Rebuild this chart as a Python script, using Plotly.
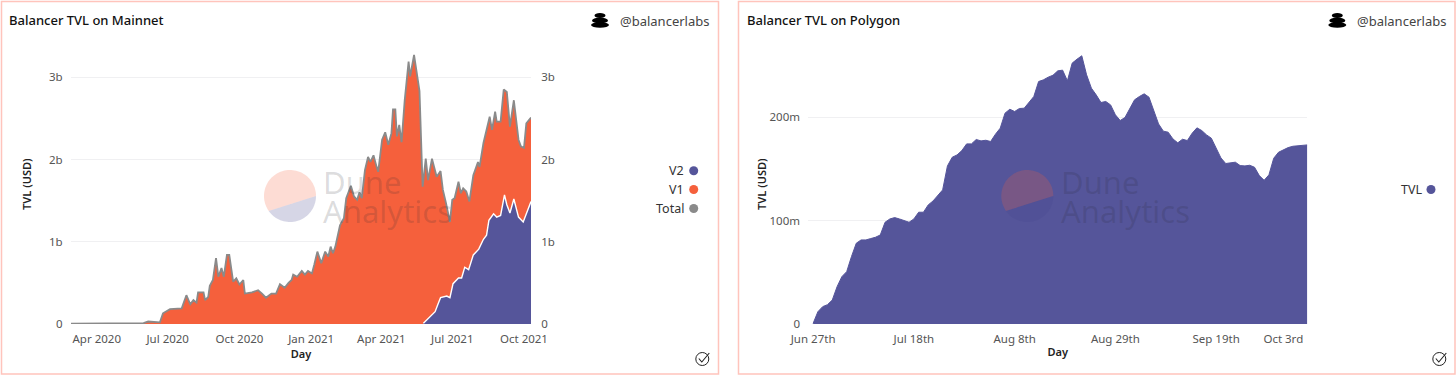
import numpy as np
import pandas as pd
import plotly.graph_objects as go

W, H = 1456, 375
FONT = "Noto Sans"

# ---- Mainnet data (day number since 2020-02-28, USD billions)
mainnet_start = "2020-02-28"
total_days = [0,37,88,93,99,114,118,127,142,148,153,157,161,163,170,172,176,178,182,186,189,193,196,200,203,208,212,216,221,223,232,240,245,250,257,263,268,274,279,283,285,290,296,300,304,309,312,316,321,326,330,333,336,339,345,350,353,359,363,367,370,373,377,381,384,388,392,394,399,403,407,411,413,416,418,421,424,428,433,435,440,444,447,451,455,458,463,466,469,474,477,481,486,489,492,497,500,503,507,511,516,522,524,529,535,537,540,544,546,551,555,559,563,568,574,577,581,584,590]
total_bn = [.005,.005,.005,.01,.03,.02,.13,.18,.19,.35,.24,.29,.26,.385,.385,.29,.33,.465,.535,.80,.575,.68,.575,.84,.84,.515,.555,.48,.535,.37,.385,.41,.37,.32,.37,.37,.485,.44,.50,.535,.60,.575,.645,.60,.645,.615,.72,.88,.74,.88,.82,.94,.86,.94,1.20,1.285,1.53,1.68,1.55,1.51,1.60,1.53,1.87,2.03,1.97,2.05,1.91,1.85,2.24,2.33,2.18,2.32,2.61,2.61,2.28,2.42,2.21,2.72,3.19,3.01,3.27,3.01,2.83,1.67,2.01,1.75,2.01,1.90,1.79,1.86,1.63,1.47,1.24,1.51,1.53,1.73,1.59,1.65,1.61,1.49,1.81,1.97,1.91,2.20,2.44,2.52,2.36,2.58,2.46,2.46,2.85,2.82,2.40,2.72,2.24,2.16,2.14,2.44,2.51]
v2_days = [452,460,467,471,474,482,486,490,497,501,505,510,516,523,529,533,536,542,546,551,556,559,563,568,574,580,584,590]
v2_bn = [.01,.08,.15,.25,.32,.34,.32,.49,.56,.56,.69,.66,.84,.91,1.03,1.08,1.26,1.34,1.30,1.32,1.57,1.45,1.35,1.52,1.30,1.24,1.35,1.49]
main_tick_dates = ["2020-04-01","2020-07-01","2020-10-01","2021-01-01","2021-04-01","2021-07-01","2021-10-01"]
main_tick_text = ["Apr 2020","Jul 2020","Oct 2020","Jan 2021","Apr 2021","Jul 2021","Oct 2021"]

# ---- Polygon data (daily from 2021-06-27, USD millions)
polygon_start = "2021-06-27"
polygon_m = [.5,11.9,16.8,18.7,23.2,36.1,45.8,50.6,65.2,78.1,81.3,81.3,82.6,83.9,86.1,98.4,101.6,102.9,101.6,100,98.4,101.6,108.1,108.1,115.2,119,124.8,129.7,152.9,161.3,163.5,167.7,174.2,174.2,178.4,177.1,177.7,176.5,183.5,189.4,203.9,207.7,205.5,208.4,208.7,213.9,220,234.5,236.1,238.7,240.6,244.8,245.5,235.2,252.3,256.1,259.4,241,228.1,221.6,214.2,215.2,211.9,202.3,196.8,199.7,207.7,216.8,220,222.6,219.4,207.1,193.5,186.5,185.5,179,175.2,178.7,177.4,184.5,189.7,187.1,182.9,179.7,170.6,160.6,155.2,155.5,156.5,153.2,152.9,153.5,151.6,143.5,139,144.2,160.3,166.1,168.7,170.6,171.9,172.3,172.3,173.2]
poly_tick_dates = ["2021-06-27","2021-07-18","2021-08-08","2021-08-29","2021-09-19","2021-10-03"]
poly_tick_text = ["Jun 27th","Jul 18th","Aug 8th","Aug 29th","Sep 19th","Oct 3rd"]

NAVY, ORANGE, GREY = "#55559a", "#f5603c", "#8a8a8a"
GRID, TICK, BORDER = "#f0f0f2", "#555555", "#ffc4bc"
CLEAR = "rgba(0,0,0,0)"

px = lambda v: v / W
py = lambda v: 1 - v / H

m_dates = pd.Timestamp(mainnet_start) + pd.to_timedelta(total_days, unit="D")
v2_dates = pd.Timestamp(mainnet_start) + pd.to_timedelta(v2_days, unit="D")
p_dates = pd.date_range(polygon_start, periods=len(polygon_m), freq="D")

fig = go.Figure()
# V1 sits on V2 in the original, so its upper edge is the total
fig.add_scatter(x=m_dates, y=total_bn, name="V1", mode="lines", fill="tozeroy", line=dict(width=0, color=ORANGE), fillcolor=ORANGE, xaxis="x", yaxis="y")
fig.add_scatter(x=v2_dates, y=v2_bn, name="V2", mode="lines", fill="tozeroy", line=dict(width=1.4, color="white"), fillcolor=NAVY, xaxis="x", yaxis="y")
fig.add_scatter(x=m_dates, y=total_bn, name="Total", mode="lines", line=dict(width=1.8, color=GREY), xaxis="x", yaxis="y2")
fig.add_scatter(x=p_dates, y=polygon_m, name="TVL", mode="lines", fill="tozeroy", line=dict(width=1, color=NAVY), fillcolor=NAVY, xaxis="x2", yaxis="y3")

tickfont = dict(family=FONT, size=11.5, color=TICK)
titlefont = dict(family=FONT, size=11, color="#222222", weight=600)

def xa(domain, rng, vals, text, title_std):
    return dict(domain=domain, range=rng, tickmode="array", tickvals=vals, ticktext=text, showgrid=False,
                zeroline=False, showline=False, ticks="outside", ticklen=4, tickcolor=CLEAR, tickfont=tickfont,
                title=dict(text="Day", font=titlefont, standoff=title_std))

def ya(rng, vals, text, ticklen=5, **kw):
    return dict(domain=[py(324), py(44.3)], range=rng, tickmode="array", tickvals=vals, ticktext=text,
                zeroline=False, showline=False, ticks="outside", ticklen=ticklen, tickcolor=CLEAR, tickfont=tickfont, **kw)

fig.update_layout(
    width=W, height=H, margin=dict(l=0, r=0, t=0, b=0, autoexpand=False), paper_bgcolor="white", plot_bgcolor="white",
    showlegend=False, font=dict(family=FONT),
    xaxis=xa([px(71), px(531)], ["2020-02-28", "2021-10-10"], main_tick_dates, main_tick_text, 3),
    xaxis2=xa([px(808.3), px(1307.3)], ["2021-06-26", "2021-10-08"], poly_tick_dates, poly_tick_text, 3),
    yaxis=ya([0, 3.4], [0, 1, 2, 3], ["0", "1b", "2b", "3b"], anchor="x", showgrid=True, gridcolor=GRID,
             title=dict(text="TVL (USD)", font=titlefont, standoff=15)),
    yaxis2=ya([0, 3.4], [0, 1, 2, 3], ["0", "1b", "2b", "3b"], ticklen=7, anchor="x", overlaying="y", side="right", showgrid=False),
    yaxis3=ya([0, 270.5], [0, 100, 200], ["0", "100m", "200m"], anchor="x2", showgrid=True, gridcolor=GRID,
              title=dict(text="TVL (USD)", font=titlefont, standoff=0)),
)

shapes, ann = [], []

def text(x, y, s, size=12, color="#222222", anchor="left", **font_kw):
    x = x - 2 if anchor == "left" else x + 2
    ann.append(dict(xref="paper", yref="paper", x=px(x), y=py(y), text=s, showarrow=False, xanchor=anchor, yanchor="middle",
                    font=dict(family=FONT, size=size, color=color, **font_kw)))

def ellipse(cx, cy, rx, ry, fill, line=None, lw=0):
    shapes.append(dict(type="circle", xref="paper", yref="paper", x0=px(cx - rx), x1=px(cx + rx), y0=py(cy + ry), y1=py(cy - ry),
                       fillcolor=fill, line=dict(color=line or fill, width=lw)))

def poly(points, fill=None, line=None, lw=0):
    d = "M" + "L".join(f"{px(a):.5f},{py(b):.5f}" for a, b in points)
    if fill:
        d += "Z"
    s = dict(type="path", xref="paper", yref="paper", path=d, line=dict(color=line or CLEAR, width=lw))
    if fill:
        s["fillcolor"] = fill
    shapes.append(s)

def watermark(cx, tx):
    r = 26
    a = np.radians(np.linspace(0, 215, 60))
    poly([(cx + r * np.cos(t), 196 - r * np.sin(t)) for t in a], fill="rgba(246,97,60,0.22)")
    a = np.radians(np.linspace(215, 360, 40))
    poly([(cx + r * np.cos(t), 196 - r * np.sin(t)) for t in a], fill="rgba(70,70,140,0.22)")
    text(tx, 182, "Dune", size=31, color="rgba(40,40,50,0.17)")
    text(tx, 211, "Analytics", size=31, color="rgba(40,40,50,0.17)")

def card(x0, x1, title_x, title, logo_x, handle_x, check_x):
    shapes.append(dict(type="rect", xref="paper", yref="paper", x0=px(x0), x1=px(x1), y0=py(374), y1=py(1.5),
                       line=dict(color=BORDER, width=1.5), fillcolor=CLEAR))
    text(title_x, 19.5, title, size=13, color="#111111", weight=500)
    ellipse(logo_x, 15.5, 5.5, 2.4, "#000000")
    ellipse(logo_x, 20.5, 8, 3, "#000000")
    ellipse(logo_x, 25, 9, 2.8, "#000000")
    text(handle_x, 21, "@balancerlabs", size=13, color="#444444")
    ellipse(check_x, 359, 6.5, 6.5, CLEAR, line="#222222", lw=1)
    poly([(check_x - 3.5, 358.5), (check_x - 0.5, 362), (check_x + 7, 353)], line="#222222", lw=1.1)

card(1.5, 718.5, 9, "Balancer TVL on Mainnet", 600, 620, 702.3)
card(738.5, 1455, 747, "Balancer TVL on Polygon", 1337.3, 1357, 1439.3)
watermark(290, 323)
watermark(1027.3, 1061)

for name, color, y in [("V2", NAVY, 170.7), ("V1", ORANGE, 189.5), ("Total", GREY, 208.5)]:
    text(684, y, name, size=12.5, color="#333333", anchor="right")
    ellipse(693.7, y, 4.5, 4.5, color)
text(1421.7, 189.5, "TVL", size=12.5, color="#333333", anchor="right")
ellipse(1431, 189.5, 4.5, 4.5, NAVY)

fig.update_layout(shapes=shapes, annotations=ann)
fig.write_html("out.html", config=dict(displayModeBar=False), post_script="document.body.style.margin='0';document.body.style.overflow='hidden';")
